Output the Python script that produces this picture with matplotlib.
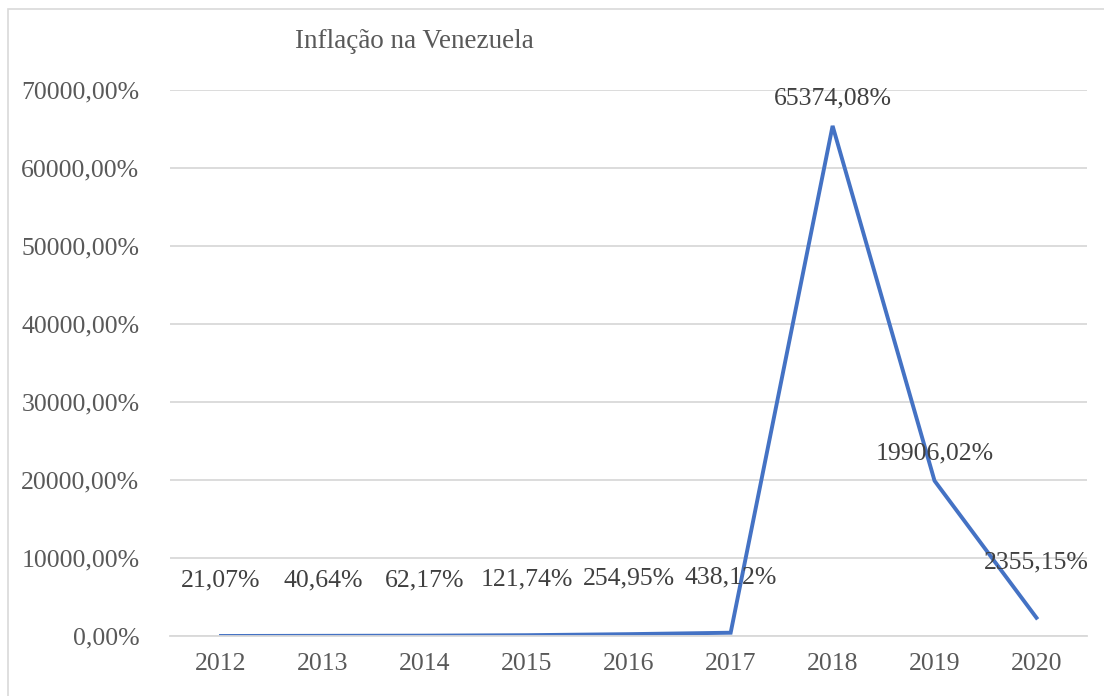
import matplotlib.pyplot as plt
from matplotlib.patches import Rectangle

# dados de inflação (%)
anos = ['2012', '2013', '2014', '2015', '2016', '2017', '2018', '2019', '2020']
inflacao = [21.07, 40.64, 62.17, 121.74, 254.95, 438.12, 65374.08, 19906.02, 2355.15]
rotulos = ['21,07%', '40,64%', '62,17%', '121,74%', '254,95%', '438,12%',
           '65374,08%', '19906,02%', '2355,15%']
yticks = [0, 10000, 20000, 30000, 40000, 50000, 60000, 70000]

plt.rcParams['font.family'] = ['Liberation Serif', 'DejaVu Serif']
cinza = '#595959'

fig = plt.figure(figsize=(11.04, 6.96), dpi=100)
ax = fig.add_axes([0.154, 0.086, 0.831, 0.785])

x = list(range(len(anos)))
ax.plot(x, inflacao, color='#4472C4', linewidth=2.8, solid_joinstyle='miter')

# rótulos de dados acima dos pontos (os pequenos ficam mais altos, como no Excel)
for xi, v, r in zip(x, inflacao, rotulos):
    dy = 12 if v > 10000 else 32
    ax.annotate(r, (xi, v), xytext=(0, dy), textcoords='offset points',
                ha='center', va='bottom', fontsize=18.5, color='#404040')

ax.set_xlim(-0.5, len(anos) - 0.5)
ax.set_ylim(0, 70000)
ax.set_xticks(x)
ax.set_xticklabels(anos)
ax.set_yticks(yticks)
ax.set_yticklabels([f'{v:.2f}'.replace('.', ',') + '%' for v in yticks])
ax.tick_params(axis='both', length=0, labelsize=18.5, colors=cinza, pad=12)
ax.tick_params(axis='y', pad=22)

ax.grid(axis='y', color='#d9d9d9', linewidth=1.3)
ax.set_axisbelow(True)
for s in ['top', 'right', 'left']:
    ax.spines[s].set_visible(False)
ax.spines['bottom'].set_color('#d9d9d9')
ax.spines['bottom'].set_linewidth(1.3)

fig.text(0.375, 0.94, 'Inflação na Venezuela', ha='center', va='center',
         fontsize=19.5, color=cinza)

# moldura do gráfico
fig.patches.append(Rectangle((0.007, -0.01), 1.0, 0.997, transform=fig.transFigure,
                             fill=False, edgecolor='#d9d9d9', linewidth=1.2))

fig.savefig('out.png', dpi=100)
